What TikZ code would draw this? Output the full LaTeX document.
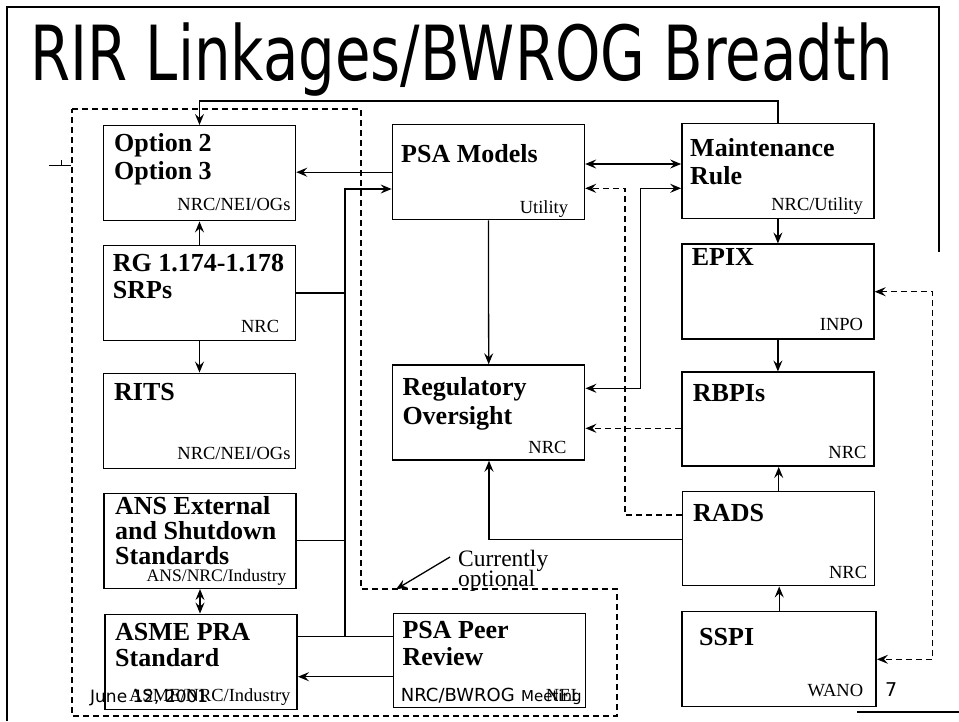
\documentclass[tikz,border=0pt]{standalone}
\usepackage{fontspec}
\usepackage{graphicx}
\setmainfont{Liberation Serif}
\newfontfamily\tsans{DejaVu Sans}
\usetikzlibrary{arrows.meta}
\begin{document}
\begin{tikzpicture}[x=1pt,y=-1pt,
  box/.style={draw, line width=1.5pt, minimum width=192pt, minimum height=95pt, inner sep=0pt},
  ttl/.style={anchor=base west, inner sep=0pt, font=\fontsize{26}{28}\selectfont\bfseries},
  lab/.style={anchor=base east, inner sep=0pt, font=\fontsize{18.5}{20}\selectfont},
  conn/.style={line width=1.3pt},
  arr/.style={conn, -{Stealth[length=11pt,width=9pt,inset=4pt]}},
  darr/.style={conn, {Stealth[length=11pt,width=9pt,inset=4pt]}-{Stealth[length=11pt,width=9pt,inset=4pt]}},
  dsh/.style={dash pattern=on 6pt off 4pt},
  frame/.style={line width=1.6pt}
]
\useasboundingbox (0,0) rectangle (959,721);

% slide frame
\draw[frame] (7,721) -- (7,7) -- (939,7) -- (939,252);
\draw[frame] (857,712) -- (959,712);
\draw[line width=1pt] (49,165) -- (71,165) (61,160) -- (61,165);

% title
\node[anchor=base west, inner sep=0pt] (title) at (30,80)
  {\scalebox{0.76}[1]{\tsans\fontsize{76}{80}\selectfont RIR Linkages/BWROG Breadth}};

% dashed region
\draw[line width=1.3pt, dsh] (72,109) -- (361,109) -- (361,589) -- (617,589) -- (617,716) -- (72,716) -- cycle;

% boxes
\node[box] (opt)  at (199.5,173.2) {};
\node[box] (rg)   at (199.5,293) {};
\node[box] (rits) at (199.5,420.8) {};
\node[box] (ans)  at (200,540.8) {};
\node[box] (asme) at (201.2,661.8) {};
\node[box] (psa)  at (488.4,172.2) {};
\node[box] (reg)  at (488.7,412.5) {};
\node[box, minimum height=94pt] (peer) at (489.5,660.3) {};
\node[box] (mr)   at (777.9,170.8) {};
\node[box] (epix) at (777.9,291.7) {};
\node[box, minimum height=94pt] (rbpi) at (777.9,419.2) {};
\node[box, minimum height=94pt] (rads) at (778.7,538.7) {};
\node[box, minimum width=194pt] (sspi) at (779.2,659.2) {};

% titles
\node[ttl] (t1a) at (114,151.7) {Option 2};
\node[ttl] (t1b) at (114,179) {Option 3};
\node[ttl] (t2a) at (112.7,271.7) {RG 1.174-1.178};
\node[ttl] (t2b) at (112.7,298) {SRPs};
\node[ttl] (t3)  at (114,400) {RITS};
\node[ttl] (t4a) at (115,514) {ANS External};
\node[ttl] (t4b) at (115,539) {and Shutdown};
\node[ttl] (t4c) at (115,564) {Standards};
\node[ttl] (t5a) at (115,640) {ASME PRA};
\node[ttl] (t5b) at (115,666.7) {Standard};
\node[ttl] (t6)  at (401,162.7) {PSA Models};
\node[ttl] (t7a) at (402.3,395) {Regulatory};
\node[ttl] (t7b) at (402.3,424.3) {Oversight};
\node[ttl] (t8a) at (402.3,638.3) {PSA Peer};
\node[ttl] (t8b) at (402.3,665) {Review};
\node[ttl] (t9a) at (690,156) {Maintenance};
\node[ttl] (t9b) at (690,184) {Rule};
\node[ttl] (t10) at (691.7,265.7) {EPIX};
\node[ttl] (t11) at (692.7,401.7) {RBPIs};
\node[ttl] (t12) at (693,521) {RADS};
\node[ttl] (t13) at (699,645) {SSPI};

% organisation labels
\node[lab] (l1)  at (290.7,210.7) {NRC/NEI/OGs};
\node[lab] (l2)  at (279.3,332.3) {NRC};
\node[lab] (l3)  at (290.7,459) {NRC/NEI/OGs};
\node[lab, font=\fontsize{17.6}{19}\selectfont] (l4) at (286.7,581) {ANS/NRC/Industry};
\node[lab] (l5)  at (290.7,701.7) {ASME/NRC/Industry};
\node[lab] (l6)  at (568.3,213.3) {Utility};
\node[lab] (l7)  at (566.7,453.3) {NRC};
\node[lab] (l9)  at (863,210) {NRC/Utility};
\node[lab] (l10) at (863.3,330) {INPO};
\node[lab] (l11) at (866.7,458.3) {NRC};
\node[lab] (l12) at (867.3,578.3) {NRC};
\node[lab] (l13) at (863.3,696.7) {WANO};
\node[lab] (l8b) at (577,701.7) {NEI};

% footer overlays
\node[anchor=base west, inner sep=0pt, font=\tsans\fontsize{17}{19}\selectfont] (date) at (90,702) {June 12, 2001};
\node[anchor=base west, inner sep=0pt, font=\tsans\fontsize{18}{20}\selectfont] (l8) at (400.7,701.7) {NRC/BWROG};
\node[anchor=base west, inner sep=0pt, font=\tsans\fontsize{15}{17}\selectfont] (meet) at (521,701.7) {Meeting};
\node[anchor=base west, inner sep=0pt, font=\tsans\fontsize{19}{21}\selectfont] (pg) at (885,696.7) {7};

% Currently optional
\node[anchor=base west, inner sep=0pt, font=\fontsize{23.5}{25}\selectfont] (cur1) at (458,566.7) {Currently};
\node[anchor=base west, inner sep=0pt, font=\fontsize{23.5}{25}\selectfont] (cur2) at (458,586) {optional};
\coordinate (ca) at (450,557);
\coordinate (cb) at (396,589.3);
\draw[arr] (ca) -- (cb);

% bend coordinates
\coordinate (b1) at (345,189);
\coordinate (b2) at (345,636.7);
\coordinate (pa) at (0,676.7);
\coordinate (pm) at (0,164);
\coordinate (k1) at (640.7,188.3);
\coordinate (k2) at (640.7,388.3);
\coordinate (k3) at (625,188.3);
\coordinate (k4) at (625,515);
\coordinate (k5) at (0,428.3);
\coordinate (k6) at (489,539.3);
\coordinate (k7) at (932.7,291.7);
\coordinate (k8) at (932.7,659.3);
\coordinate (k9) at (0,101);

% left column connectors
\draw[arr] (rg.north) -- (opt.south);
\draw[arr] (rg.south) -- (rits.north);
\draw[darr] (ans.south) -- (ans.south |- asme.north);
\draw[arr] (psa.west) -- (opt.east |- psa.west);

% bus into PSA Models
\draw[arr] (peer.west |- b2) -- (b2) -- (b1) -- (psa.west |- b1);
\draw[conn] (rg.east) -- (rg.east -| b1);
\draw[conn] (ans.east) -- (ans.east -| b1);
\draw[conn] (asme.east |- b2) -- (b2);
\draw[arr] (peer.west |- pa) -- (asme.east |- pa);

% top connector
\draw[arr] (mr.north) -- (mr.north |- k9) -- (opt.north |- k9) -- (opt.north);

% middle / right connectors
\draw[darr] (psa.east |- pm) -- (mr.west |- pm);
\draw[darr] (mr.west |- k1) -- (k1) -- (k2) -- (reg.east |- k2);
\draw[arr] (psa.south) -- (reg.north);
\draw[arr, dsh] (rads.west |- k4) -- (k4) -- (k3) -- (psa.east |- k3);
\draw[arr, dsh] (rbpi.west |- k5) -- (reg.east |- k5);
\draw[arr] (rads.west |- k6) -- (k6) -- (reg.south -| k6);
\draw[arr] (mr.south) -- (epix.north);
\draw[arr] (epix.south) -- (rbpi.north);
\draw[arr] (rads.north) -- (rads.north |- rbpi.south);
\draw[arr] (sspi.north) -- (sspi.north |- rads.south);
\draw[darr, dsh] (epix.east |- k7) -- (k7) -- (k8) -- (sspi.east |- k8);
\end{tikzpicture}
\end{document}
